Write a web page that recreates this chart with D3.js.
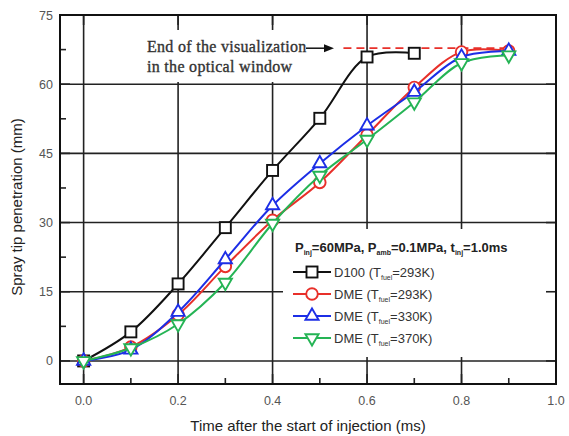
<!DOCTYPE html>
<html>
<head>
<meta charset="utf-8">
<script src="https://cdn.jsdelivr.net/npm/d3@7"></script>
<style>
  body { margin: 0; background: #fff; }
  svg { display: block; font-family: Arial, "Liberation Sans", sans-serif; }
</style>
</head>
<body>
<svg id="chart" width="569" height="436"></svg>
<script>
// time after start of injection (ms)
var times = [0, 0.1, 0.2, 0.3, 0.4, 0.5, 0.6, 0.7, 0.8, 0.9];
// spray tip penetration (mm)
var d100 = [0, 6.3, 16.7, 28.9, 41.3, 52.6, 65.9, 66.7];
var dme293 = [0, 3.0, 10.0, 20.5, 30.5, 38.7, 49.0, 59.3, 67.0, 67.2];
var dme330 = [0, 2.4, 10.6, 22.0, 33.7, 42.8, 51.0, 58.3, 65.9, 67.2];
var dme370 = [0, 2.8, 8.0, 17.0, 29.8, 40.2, 48.0, 56.1, 64.6, 66.3];

var xTicks = [0, 0.2, 0.4, 0.6, 0.8, 1.0];
var xMinor = [0.1, 0.3, 0.5, 0.7, 0.9];
var yTicks = [0, 15, 30, 45, 60, 75];
var yMinor = [7.5, 22.5, 37.5, 52.5, 67.5];
var windowLimit = 67.8;

var series = [
  { name: "D100", temp: "293K", values: d100, color: "#111", shape: "square" },
  { name: "DME", temp: "293K", values: dme293, color: "#e8302a", shape: "circle" },
  { name: "DME", temp: "330K", values: dme330, color: "#1c2ee6", shape: "up" },
  { name: "DME", temp: "370K", values: dme370, color: "#25b455", shape: "down" }
];

(function() {
  var svg = d3.select("#chart");
  var pl = 60, pr = 556, pt = 15, pb = 384;

  var x = d3.scaleLinear().domain([-0.05, 1.0]).range([pl, pr]);
  var y = d3.scaleLinear().domain([-5, 75]).range([pb, pt]);

  // grid
  var grid = svg.append("g").attr("stroke", "#222").attr("stroke-width", 1.6);
  grid.selectAll(".gx").data(xTicks.slice(0, 5)).enter().append("line")
    .attr("x1", function(d) { return x(d); }).attr("x2", function(d) { return x(d); })
    .attr("y1", pt).attr("y2", pb);
  grid.selectAll(".gy").data(yTicks.slice(0, 5)).enter().append("line")
    .attr("x1", pl).attr("x2", pr)
    .attr("y1", function(d) { return y(d); }).attr("y2", function(d) { return y(d); });

  // white boxes for annotation and legend
  svg.append("rect").attr("x", 138).attr("y", 30).attr("width", 202).attr("height", 52).attr("fill", "#fff");
  svg.append("rect").attr("x", 283).attr("y", 229).attr("width", pr - 283).attr("height", 128).attr("fill", "#fff");

  // ticks
  var ticks = svg.append("g").attr("stroke", "#222").attr("stroke-width", 1.6);
  xTicks.forEach(function(d) {
    ticks.append("line").attr("x1", x(d)).attr("x2", x(d)).attr("y1", pt).attr("y2", pt + 10);
    ticks.append("line").attr("x1", x(d)).attr("x2", x(d)).attr("y1", pb).attr("y2", pb - 10);
  });
  xMinor.forEach(function(d) {
    ticks.append("line").attr("x1", x(d)).attr("x2", x(d)).attr("y1", pb).attr("y2", pb - 6);
  });
  yTicks.forEach(function(d) {
    ticks.append("line").attr("x1", pl).attr("x2", pl + 10).attr("y1", y(d)).attr("y2", y(d));
    ticks.append("line").attr("x1", pr).attr("x2", pr - 10).attr("y1", y(d)).attr("y2", y(d));
  });
  yMinor.forEach(function(d) {
    ticks.append("line").attr("x1", pl).attr("x2", pl + 6).attr("y1", y(d)).attr("y2", y(d));
  });

  // frame
  svg.append("rect").attr("x", pl).attr("y", pt).attr("width", pr - pl).attr("height", pb - pt)
    .attr("fill", "none").attr("stroke", "#111").attr("stroke-width", 2);

  // tick labels
  svg.append("g").selectAll("text").data(xTicks).enter().append("text")
    .attr("x", function(d) { return x(d); }).attr("y", 405)
    .attr("text-anchor", "middle").attr("font-size", 12.5).attr("fill", "#555")
    .text(function(d) { return d3.format(".1f")(d); });
  svg.append("g").selectAll("text").data(yTicks).enter().append("text")
    .attr("x", 53).attr("y", function(d) { return y(d) + 4.5; })
    .attr("text-anchor", "end").attr("font-size", 12.5).attr("fill", "#555")
    .text(function(d) { return d; });

  // axis titles
  svg.append("text").attr("x", 308).attr("y", 431).attr("text-anchor", "middle")
    .attr("font-size", 15).attr("fill", "#222").text("Time after the start of injection (ms)");
  svg.append("text").attr("transform", "translate(22,207) rotate(-90)").attr("text-anchor", "middle")
    .attr("font-size", 15).attr("fill", "#222").text("Spray tip penetration (mm)");

  // end of visualization annotation
  svg.append("line").attr("x1", x(0.55)).attr("x2", x(0.91))
    .attr("y1", y(windowLimit)).attr("y2", y(windowLimit))
    .attr("stroke", "#e8302a").attr("stroke-width", 1.8).attr("stroke-dasharray", "8,5");
  var note = svg.append("g").attr("font-family", "'Liberation Serif', 'DejaVu Serif', serif")
    .attr("font-size", 16).attr("letter-spacing", 0.3).attr("fill", "#333")
    .attr("stroke", "#333").attr("stroke-width", 0.35);
  note.append("text").attr("x", 147).attr("y", 52).text("End of the visualization");
  note.append("text").attr("x", 147).attr("y", 72).text("in the optical window");
  svg.append("line").attr("x1", 306).attr("x2", 326).attr("y1", y(windowLimit)).attr("y2", y(windowLimit))
    .attr("stroke", "#111").attr("stroke-width", 1.5);
  svg.append("path").attr("d", "M334," + y(windowLimit) + "l-10,-4l0,8z").attr("fill", "#111");

  // marker drawing
  function marker(g, shape, color) {
    if (shape === "square") {
      g.append("rect").attr("x", -5.5).attr("y", -5.5).attr("width", 11).attr("height", 11);
    } else if (shape === "circle") {
      g.append("circle").attr("r", 5.8);
    } else if (shape === "up") {
      g.append("path").attr("d", d3.symbol().type(d3.symbolTriangle).size(75)());
    } else {
      g.append("path").attr("d", d3.symbol().type(d3.symbolTriangle).size(75)()).attr("transform", "rotate(180)");
    }
    g.selectAll("*").attr("fill", "#fff").attr("stroke", color).attr("stroke-width", 1.9);
  }

  var line = d3.line()
    .x(function(d, i) { return x(times[i]); })
    .y(function(d) { return y(d); })
    .curve(d3.curveCatmullRom);

  series.forEach(function(s) {
    var g = svg.append("g");
    g.append("path").datum(s.values).attr("d", line)
      .attr("fill", "none").attr("stroke", s.color).attr("stroke-width", 2);
    g.selectAll("g").data(s.values).enter().append("g")
      .attr("transform", function(d, i) { return "translate(" + x(times[i]) + "," + y(d) + ")"; })
      .each(function() { marker(d3.select(this), s.shape, s.color); });
  });

  // legend
  var legend = svg.append("g").attr("font-size", 13).attr("fill", "#333");
  var title = legend.append("text").attr("x", 295).attr("y", 252).attr("font-weight", "bold").attr("fill", "#222");
  [["P", "inj", "=60MPa, "], ["P", "amb", "=0.1MPa, "], ["t", "inj", "=1.0ms"]].forEach(function(p) {
    title.append("tspan").text(p[0]);
    title.append("tspan").attr("font-size", 7).attr("dy", 3).text(p[1]);
    title.append("tspan").attr("dy", -3).text(p[2]);
  });
  series.forEach(function(s, i) {
    var ly = 272 + i * 22;
    legend.append("line").attr("x1", 293).attr("x2", 331).attr("y1", ly).attr("y2", ly)
      .attr("stroke", s.color).attr("stroke-width", 2);
    var mg = legend.append("g").attr("transform", "translate(312," + ly + ")");
    marker(mg, s.shape, s.color);
    var t = legend.append("text").attr("x", 334).attr("y", ly + 5);
    t.append("tspan").text(s.name + " (T");
    t.append("tspan").attr("font-size", 7).attr("dy", 3).text("fuel");
    t.append("tspan").attr("dy", -3).text("=" + s.temp + ")");
  });
})();
</script>
</body>
</html>
